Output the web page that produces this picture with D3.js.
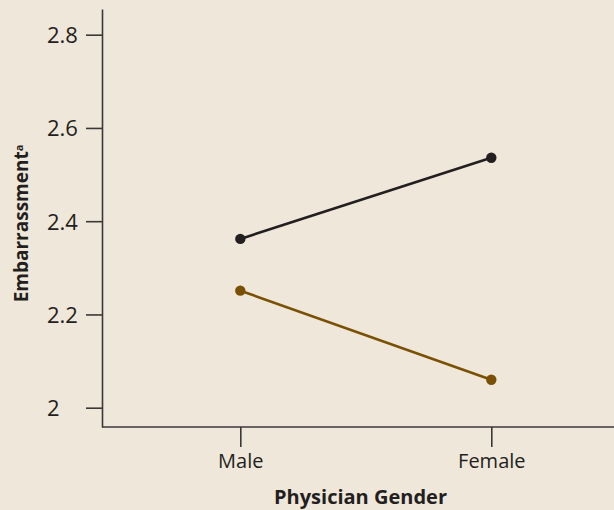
<!DOCTYPE html>
<html>
<head>
<meta charset="utf-8">
<script src="https://cdn.jsdelivr.net/npm/d3@7"></script>
<style>
  html, body { margin: 0; padding: 0; background: #efe7d9; }
  svg { display: block; }
  text { font-family: "Open Sans", sans-serif; fill: #231f20; }
</style>
</head>
<body>
<svg id="chart" width="614" height="510"></svg>
<script>
// ---- data ----
const categories = ["Male", "Female"];
const seriesNames = ["Series A", "Series B"];
const seriesA = [2.362, 2.536];   // black line
const seriesB = [2.251, 2.060];   // brown line
const yTicks = [2, 2.2, 2.4, 2.6, 2.8];
const yTickLabels = ["2", "2.2", "2.4", "2.6", "2.8"];
const xTitle = "Physician Gender";
const yTitle = "Embarrassment";
const yTitleSup = "a";
const colors = ["#231f20", "#7a5104"];

const svg = d3.select("#chart");
const W = 614, H = 510;

const y = d3.scaleLinear().domain([1.9586, 2.8551]).range([427, 9]);
const x = d3.scalePoint().domain(categories).range([240.3, 491.3]);

const axisColor = "#3b3838";

// Y axis
const yAxis = d3.axisLeft(y).tickValues(yTicks).tickSize(16).tickSizeOuter(0)
  .tickFormat((d, i) => yTickLabels[i]);
const gy = svg.append("g").attr("transform", "translate(102,0)").call(yAxis);
gy.select(".domain").attr("stroke", axisColor).attr("stroke-width", 1.6);
gy.selectAll(".tick line").attr("stroke", axisColor).attr("stroke-width", 1.6);
gy.selectAll(".tick text")
  .attr("x", -55).attr("text-anchor", "start").attr("dy", "0.36em")
  .style("font-size", "22px").style("font-family", "\"Open Sans\", sans-serif")
  .attr("fill", "#231f20");

// X axis
const xAxis = d3.axisBottom(x).tickSize(20).tickSizeOuter(0);
const gx = svg.append("g").attr("transform", "translate(0,427)").call(xAxis);
gx.select(".domain").remove();
gx.append("line").attr("x1", 102).attr("x2", W).attr("y1", 0).attr("y2", 0)
  .attr("stroke", axisColor).attr("stroke-width", 1.6);
gx.selectAll(".tick line").attr("stroke", axisColor).attr("stroke-width", 1.6);
gx.selectAll(".tick text")
  .attr("y", 27).attr("dy", "0.71em")
  .style("font-size", "20px").style("font-family", "\"Open Sans\", sans-serif")
  .attr("fill", "#231f20");

// Axis titles
svg.append("text").attr("x", 360.5).attr("y", 504).attr("text-anchor", "middle")
  .style("font-size", "20px").style("font-weight", "bold").text(xTitle);

const yt = svg.append("text")
  .attr("transform", "translate(28,223.5) rotate(-90)")
  .attr("text-anchor", "middle")
  .style("font-size", "19px").style("font-weight", "bold");
yt.append("tspan").text(yTitle);
yt.append("tspan").attr("dy", "-0.5em").style("font-size", "11px").text(yTitleSup);

// Lines and points
const series = [seriesA, seriesB];
const line = d3.line().x((d, i) => x(categories[i])).y(d => y(d));
series.forEach((s, k) => {
  svg.append("path").datum(s).attr("d", line).attr("fill", "none")
    .attr("stroke", colors[k]).attr("stroke-width", 2.6);
  svg.selectAll(null).data(s).enter().append("circle")
    .attr("cx", (d, i) => x(categories[i])).attr("cy", d => y(d))
    .attr("r", 5.2).attr("fill", colors[k]);
});
</script>
</body>
</html>
